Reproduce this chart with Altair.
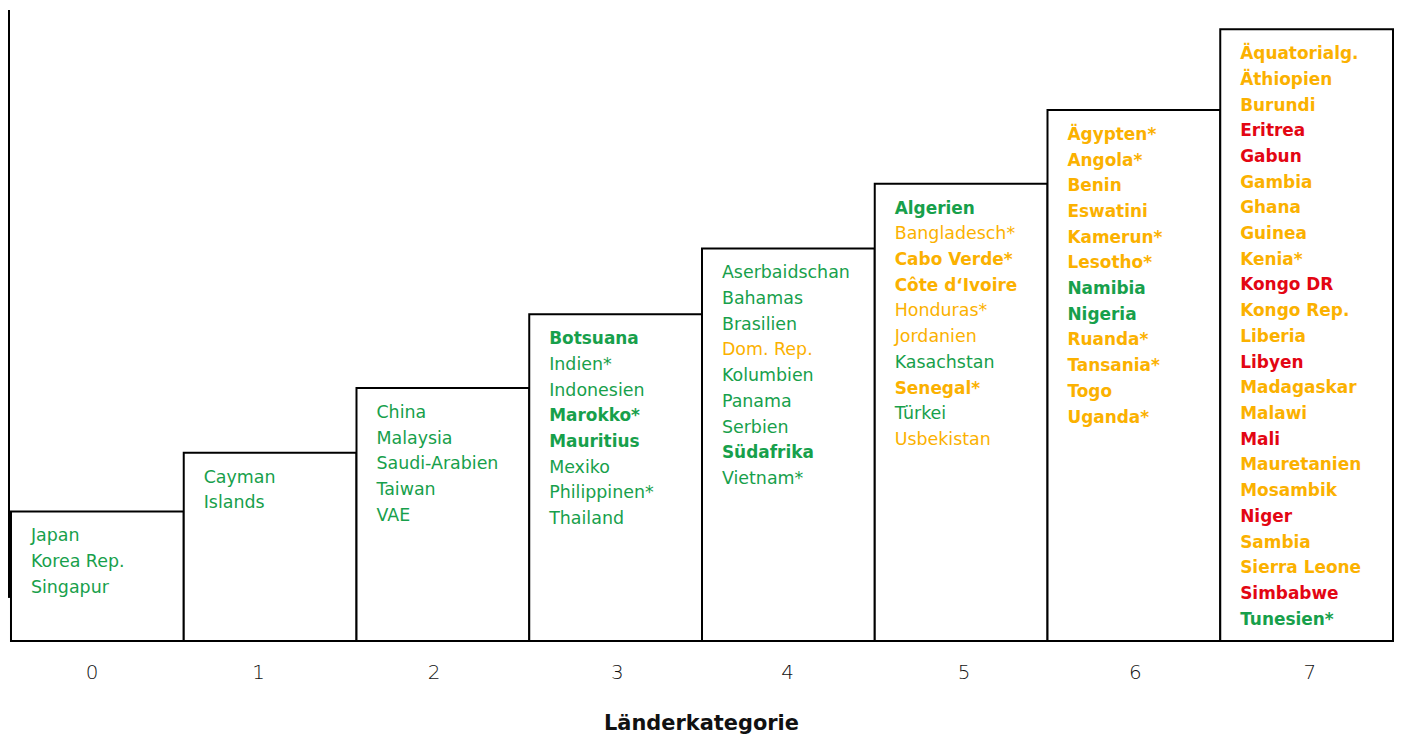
import altair as alt
import pandas as pd

# ---- data ----
categories = [0, 1, 2, 3, 4, 5, 6, 7]
box_heights = [130, 189, 254, 328, 394, 459, 533, 614]  # height of each step (px-like units)

cat0_names = ["Japan", "Korea Rep.", "Singapur"]
cat0_colors = ["g", "g", "g"]
cat0_bold = [0, 0, 0]

cat1_names = ["Cayman", "Islands"]
cat1_colors = ["g", "g"]
cat1_bold = [0, 0]

cat2_names = ["China", "Malaysia", "Saudi-Arabien", "Taiwan", "VAE"]
cat2_colors = ["g", "g", "g", "g", "g"]
cat2_bold = [0, 0, 0, 0, 0]

cat3_names = ["Botsuana", "Indien*", "Indonesien", "Marokko*", "Mauritius", "Mexiko", "Philippinen*", "Thailand"]
cat3_colors = ["g"] * 8
cat3_bold = [1, 0, 0, 1, 1, 0, 0, 0]

cat4_names = ["Aserbaidschan", "Bahamas", "Brasilien", "Dom. Rep.", "Kolumbien", "Panama", "Serbien", "Südafrika", "Vietnam*"]
cat4_colors = ["g", "g", "g", "o", "g", "g", "g", "g", "g"]
cat4_bold = [0, 0, 0, 0, 0, 0, 0, 1, 0]

cat5_names = ["Algerien", "Bangladesch*", "Cabo Verde*", "Côte d‘Ivoire", "Honduras*", "Jordanien", "Kasachstan", "Senegal*", "Türkei", "Usbekistan"]
cat5_colors = ["g", "o", "o", "o", "o", "o", "g", "o", "g", "o"]
cat5_bold = [1, 0, 1, 1, 0, 0, 0, 1, 0, 0]

cat6_names = ["Ägypten*", "Angola*", "Benin", "Eswatini", "Kamerun*", "Lesotho*", "Namibia", "Nigeria", "Ruanda*", "Tansania*", "Togo", "Uganda*"]
cat6_colors = ["o", "o", "o", "o", "o", "o", "g", "g", "o", "o", "o", "o"]
cat6_bold = [1] * 12

cat7_names = ["Äquatorialg.", "Äthiopien", "Burundi", "Eritrea", "Gabun", "Gambia", "Ghana", "Guinea", "Kenia*", "Kongo DR", "Kongo Rep.", "Liberia", "Libyen", "Madagaskar", "Malawi", "Mali", "Mauretanien", "Mosambik", "Niger", "Sambia", "Sierra Leone", "Simbabwe", "Tunesien*"]
cat7_colors = ["o", "o", "o", "r", "r", "o", "o", "o", "o", "r", "o", "o", "r", "o", "o", "r", "o", "o", "r", "o", "o", "r", "g"]
cat7_bold = [1] * 23

tick_label_pos = [91, 258, 434, 618, 789, 966, 1138, 1313]  # page px where tick labels sit

color_keys = ["g", "o", "r"]
color_values = ["#17a04b", "#fbb100", "#e30613"]

# ---- build tables ----
PX_PER_CAT = 173.375
LEFT_PX = 10
X_MIN = -2 / PX_PER_CAT
PLOT_W = 1389
PLOT_H = 633
FIRST_OFFSET = 25
LINE_STEP = 25.8

boxes = pd.DataFrame({"cat": categories, "cat_end": [c + 1 for c in categories], "h": box_heights})

all_names = [cat0_names, cat1_names, cat2_names, cat3_names, cat4_names, cat5_names, cat6_names, cat7_names]
all_colors = [cat0_colors, cat1_colors, cat2_colors, cat3_colors, cat4_colors, cat5_colors, cat6_colors, cat7_colors]
all_bold = [cat0_bold, cat1_bold, cat2_bold, cat3_bold, cat4_bold, cat5_bold, cat6_bold, cat7_bold]

rows = []
for c, names, cols, bolds in zip(categories, all_names, all_colors, all_bold):
    for i, (n, col, b) in enumerate(zip(names, cols, bolds)):
        rows.append({"cat": c, "name": n, "col": col, "bold": b,
                     "ty": box_heights[c] - FIRST_OFFSET - i * LINE_STEP})
labels = pd.DataFrame(rows)

tick_values = [(p - LEFT_PX) / PX_PER_CAT for p in tick_label_pos]

xscale = alt.Scale(domain=[X_MIN, 8], nice=False, zero=False)
yscale = alt.Scale(domain=[0, PLOT_H], nice=False, zero=False)

xaxis = alt.Axis(values=tick_values, labelExpr="'' + round(datum.value - 0.5)",
                 domain=False, ticks=False, grid=False, labelFontSize=20,
                 labelFont="DejaVu Sans", labelFontWeight=300, labelColor="#111",
                 labelPadding=22, labelAngle=0,
                 title="Länderkategorie", titleFont="DejaVu Sans", titleFontSize=21,
                 titleFontWeight="bold", titleColor="#111", titlePadding=30)

base_boxes = alt.Chart(boxes).mark_rect(fill="white", stroke="black", strokeWidth=2).encode(
    x=alt.X("cat:Q", scale=xscale, axis=xaxis),
    x2="cat_end:Q",
    y=alt.Y("h:Q", scale=yscale, axis=None),
    y2=alt.datum(0),
)

left_line = alt.Chart(boxes).mark_rule(color="black", strokeWidth=2).encode(
    x=alt.datum(X_MIN),
    y=alt.datum(44),
    y2=alt.datum(PLOT_H),
)

color_enc = alt.Color("col:N", scale=alt.Scale(domain=color_keys, range=color_values), legend=None)

text_regular = alt.Chart(labels).transform_filter("datum.bold == 0").mark_text(
    align="left", baseline="middle", dx=20, fontSize=17.5, font="DejaVu Sans"
).encode(
    x=alt.X("cat:Q", scale=xscale),
    y=alt.Y("ty:Q", scale=yscale),
    text="name:N",
    color=color_enc,
)

text_bold = alt.Chart(labels).transform_filter("datum.bold == 1").mark_text(
    align="left", baseline="middle", dx=20, fontSize=17, font="DejaVu Sans", fontWeight="bold"
).encode(
    x=alt.X("cat:Q", scale=xscale),
    y=alt.Y("ty:Q", scale=yscale),
    text="name:N",
    color=color_enc,
)

chart = alt.layer(base_boxes, left_line, text_regular, text_bold).properties(
    width=PLOT_W, height=PLOT_H,
    padding={"left": 0, "top": 0, "right": 0, "bottom": 0},
).configure_view(stroke=None)

chart.save("out.html", embed_options={"renderer": "svg", "actions": False})
